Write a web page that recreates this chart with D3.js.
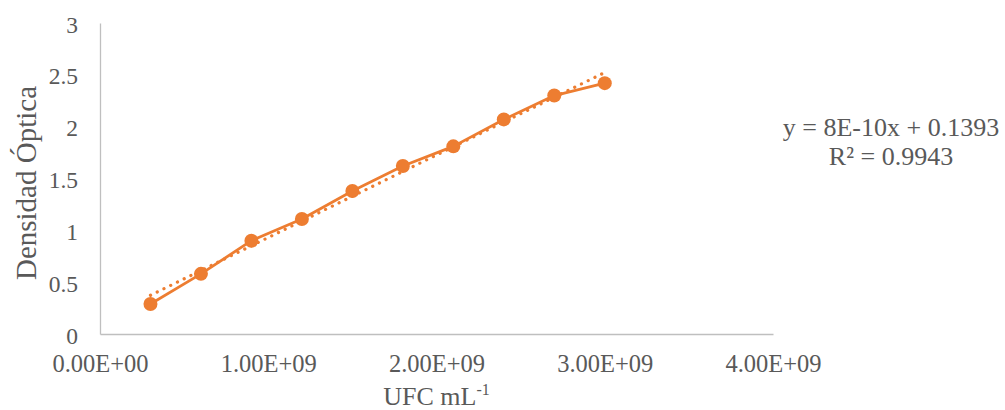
<!DOCTYPE html>
<html><head><meta charset="utf-8">
<script src="https://cdn.jsdelivr.net/npm/d3@7"></script>
<style>
html,body{margin:0;padding:0;background:#fff;}
svg{display:block;}
text{font-family:"Liberation Serif","Times New Roman",serif;fill:#595959;}
</style></head>
<body>
<script>
// Data
const ufc = [3e8, 6e8, 9e8, 1.2e9, 1.5e9, 1.8e9, 2.1e9, 2.4e9, 2.7e9, 3.0e9];
const densidad = [0.29, 0.58, 0.90, 1.11, 1.38, 1.62, 1.81, 2.07, 2.30, 2.42];
const xTicks = [0, 1e9, 2e9, 3e9, 4e9];
const xTickLabels = ["0.00E+00", "1.00E+09", "2.00E+09", "3.00E+09", "4.00E+09"];
const yTicks = [0, 0.5, 1, 1.5, 2, 2.5, 3];
const yTickLabels = ["0", "0.5", "1", "1.5", "2", "2.5", "3"];
const equationLines = ["y = 8E-10x + 0.1393", "R² = 0.9943"];
const yTitle = "Densidad Óptica";

const W = 1005, H = 410;
const orange = "#ED7D31", axisCol = "#BFBFBF";
const svg = d3.select("body").append("svg").attr("width", W).attr("height", H);
svg.append("rect").attr("width", W).attr("height", H).attr("fill", "#fff");

const x = d3.scaleLinear().domain([0, 4e9]).range([100, 773]);
const y = d3.scaleLinear().domain([0, 3]).range([334, 23]);

// Axes lines
const xAxis = d3.axisBottom(x).tickValues(xTicks).tickSize(0).tickFormat((d, i) => xTickLabels[i]);
const gx = svg.append("g").attr("transform", `translate(0,${y(0)})`).call(xAxis);
gx.select(".domain").attr("stroke", axisCol).attr("stroke-width", 1.3);
gx.selectAll("text").attr("font-size", "24.5px").attr("fill", "#595959")
  .attr("font-family", "Liberation Serif, Times New Roman, serif").attr("dy", null).attr("y", 38);

const yAxis = d3.axisLeft(y).tickValues(yTicks).tickSize(0).tickFormat((d, i) => yTickLabels[i]);
const gy = svg.append("g").attr("transform", `translate(${x(0)},0)`).call(yAxis);
gy.select(".domain").attr("stroke", axisCol).attr("stroke-width", 1.3);
gy.selectAll("text").attr("font-size", "23.5px").attr("fill", "#595959")
  .attr("font-family", "Liberation Serif, Times New Roman, serif")
  .attr("dy", null).attr("x", -22).attr("y", 9);

// Linear trendline (least squares from data)
const n = ufc.length;
const mx = d3.mean(ufc), my = d3.mean(densidad);
let sxy = 0, sxx = 0;
for (let i = 0; i < n; i++) { sxy += (ufc[i]-mx)*(densidad[i]-my); sxx += (ufc[i]-mx)**2; }
const slope = sxy / sxx, icpt = my - slope * mx;
const xs = d3.extent(ufc);
svg.append("line")
  .attr("x1", x(xs[0])).attr("y1", y(icpt + slope*xs[0]))
  .attr("x2", x(xs[1])).attr("y2", y(icpt + slope*xs[1]))
  .attr("stroke", orange).attr("stroke-width", 3.2)
  .attr("stroke-linecap", "round").attr("stroke-dasharray", "0.1 7.4");

// Series line
const pts = ufc.map((v, i) => [v, densidad[i]]);
svg.append("path").datum(pts)
  .attr("d", d3.line().x(d => x(d[0])).y(d => y(d[1])))
  .attr("fill", "none").attr("stroke", orange).attr("stroke-width", 2.8)
  .attr("stroke-linejoin", "round");
svg.selectAll("circle.pt").data(pts).enter().append("circle")
  .attr("class", "pt").attr("cx", d => x(d[0])).attr("cy", d => y(d[1]))
  .attr("r", 7).attr("fill", orange);

// Equation
svg.append("text").attr("x", 891).attr("y", 136).attr("text-anchor", "middle")
  .attr("font-size", "26px").text(equationLines[0]);
svg.append("text").attr("x", 891).attr("y", 165).attr("text-anchor", "middle")
  .attr("font-size", "26px").text(equationLines[1]);

// Axis titles
const xt = svg.append("text").attr("x", (x.range()[0] + x.range()[1]) / 2).attr("y", 405)
  .attr("text-anchor", "middle").attr("font-size", "26px");
xt.append("tspan").text("UFC mL");
xt.append("tspan").attr("font-size", "16px").attr("dy", -10).text("-1");

svg.append("text").attr("transform", "translate(36,183) rotate(-90)")
  .attr("text-anchor", "middle").attr("font-size", "29px").text(yTitle);
</script>
</body></html>
